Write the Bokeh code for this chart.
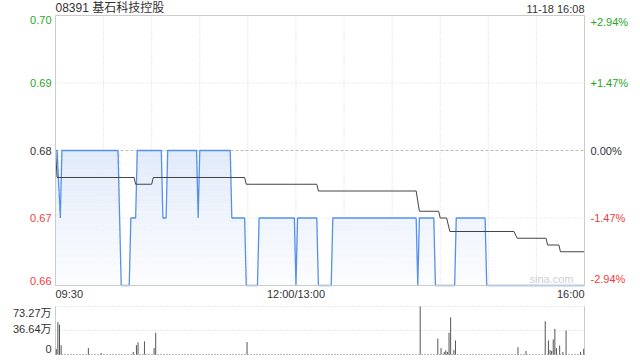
import numpy as np
from bokeh.plotting import figure
from bokeh.layouts import column
from bokeh.models import Range1d
from bokeh.core.properties import value
from bokeh.embed import file_html
from bokeh.resources import INLINE

# ---------------- data ----------------
title_text = "08391 基石科技控股"
stamp_text = "11-18 16:08"
prev_close = 0.68

# minute index from 09:30 (0) to 16:00 (330), lunch break removed
price_t = [0, 1, 3, 4, 39, 41, 46, 47, 50, 51, 66, 67, 69, 70, 88, 89, 90,
           109, 110, 118, 119, 126, 127, 149, 150, 151, 163, 164, 172, 173,
           225, 226, 227, 236, 237, 249, 250, 268, 269, 330]
price_v = [0.68, 0.68, 0.67, 0.68, 0.68, 0.66, 0.66, 0.67, 0.67, 0.68, 0.68, 0.67, 0.67, 0.68, 0.68, 0.67, 0.68,
           0.68, 0.67, 0.67, 0.66, 0.66, 0.67, 0.67, 0.66, 0.67, 0.67, 0.66, 0.66, 0.67,
           0.67, 0.66, 0.67, 0.67, 0.66, 0.66, 0.67, 0.67, 0.66, 0.66]

avg_t = [0, 1, 49, 50, 60, 61, 118, 119, 163, 164, 225, 227, 239, 240, 244, 246,
         286, 288, 306, 307, 314, 315, 330]
avg_v = [0.68, 0.676, 0.676, 0.675, 0.675, 0.676, 0.676, 0.675, 0.675, 0.674, 0.674, 0.671, 0.671, 0.670,
         0.670, 0.668, 0.668, 0.667, 0.667, 0.666, 0.666, 0.665, 0.665]

vol_t = [0, 1, 2, 3, 20, 28, 48, 50, 51, 55, 61, 62, 119, 227, 238, 240, 242, 243, 244, 245, 246, 248, 249,
         288, 293, 305, 307, 308, 309, 310, 311, 312, 314, 316, 318, 327, 329]
vol_wan = [8.3, 49.3, 45.4, 14.2, 9.8, 2.4, 3.9, 14.2, 18.6, 20.0, 9.8, 33.2, 19.1, 73.27, 24.4, 9.8, 3.9, 6.4,
           3.9, 33.2, 56.7, 6.8, 21.5, 11.2, 5.4, 50.8, 21.5, 6.8, 5.4, 23.0, 39.1, 9.8, 13.7, 3.9, 36.6, 3.9, 8.8]

price_ticks = [0.70, 0.69, 0.68, 0.67, 0.66]
price_labels = ["0.70", "0.69", "0.68", "0.67", "0.66"]
pct_labels = ["+2.94%", "+1.47%", "0.00%", "-1.47%", "-2.94%"]
time_ticks = [0, 150, 330]
time_labels = ["09:30", "12:00/13:00", "16:00"]
vol_ticks = [73.27, 36.64, 0]
vol_labels = ["73.27万", "36.64万", "0"]

# ---------------- layout geometry (pixels) ----------------
T0, T1 = 0, 330            # session minutes
P_LO, P_HI = 0.66, 0.70
LEFT, RIGHT = 55, 584      # plot-area pixel edges
W = 640
H1, TOP1, BOT1 = 300, 15, 285
H2, TOP2, BOT2 = 60, 6, 54
V_HI = vol_ticks[0]

sx = (RIGHT - LEFT) / (T1 - T0)
xr = Range1d(T0 - LEFT / sx, T1 + (W - RIGHT) / sx)
sy = (BOT1 - TOP1) / (P_HI - P_LO)
yr = Range1d(P_LO - (H1 - BOT1) / sy, P_HI + TOP1 / sy)
sv = (BOT2 - TOP2) / V_HI
vr = Range1d(0 - (H2 - BOT2) / sv, V_HI + TOP2 / sv)

FONT = value("Liberation Sans, Noto Sans CJK SC")
GREEN = "#1fa81f"
RED = "#f03c3c"
DARK = "#333333"
GRID = "#d4d4d4"
BORDER = "#cccccc"

def make_fig(h, y_range):
    f = figure(width=W, height=h, output_backend="svg", toolbar_location=None,
               x_range=xr, y_range=y_range, x_axis_location=None, y_axis_location=None,
               min_border=0)
    f.min_border_left = f.min_border_right = f.min_border_top = f.min_border_bottom = 0
    f.outline_line_color = None
    f.grid.visible = False
    f.background_fill_color = "white"
    f.border_fill_color = "white"
    return f

# ---------------- price panel ----------------
p = make_fig(H1, yr)

vx = list(range(30, 330, 30))
p.segment(x0=vx, y0=[P_LO] * len(vx), x1=vx, y1=[P_HI] * len(vx),
          line_color=GRID, line_dash="1 2", line_width=1)
hy = [0.69, 0.67]
p.segment(x0=[T0] * 2, y0=hy, x1=[T1] * 2, y1=hy, line_color=GRID, line_dash="1 2", line_width=1)
p.segment(x0=[T0], y0=[prev_close], x1=[T1], y1=[prev_close],
          line_color="#bbbbbb", line_dash="3 2", line_width=1)

# gradient fill under price line
pt = np.array(price_t, dtype=float)
pv = np.array(price_v, dtype=float)
nb = 20
lo_all, hi_all = 0.66, 0.68
c_top = np.array([226, 235, 251])
c_bot = np.array([252, 253, 255])
for k in range(nb):
    lo = lo_all + (hi_all - lo_all) * k / nb
    hi = lo_all + (hi_all - lo_all) * (k + 1) / nb
    f_ = (k + 0.5) / nb
    c = (c_bot + (c_top - c_bot) * f_).astype(int)
    col = "#%02x%02x%02x" % tuple(c)
    p.varea(x=pt, y1=np.clip(pv, lo, hi), y2=np.full_like(pv, lo), fill_color=col)

p.line(price_t, price_v, line_color="#5590ea", line_width=1.3)
p.line(avg_t, avg_v, line_color="#444444", line_width=1)

# plot-area border
p.quad(left=[T0], right=[T1], bottom=[P_LO], top=[P_HI], fill_color=None,
       line_color=BORDER, line_width=1)

def txt(fig, x, y, t, align, baseline, color=DARK, size="11px", xo=0, yo=0):
    fig.text(x=[x], y=[y], text=[t], text_align=align, text_baseline=baseline,
             text_color=color, text_font=FONT, text_font_size=size, x_offset=xo, y_offset=yo)

for yv, ltxt, rtxt in zip(price_ticks, price_labels, pct_labels):
    colr = GREEN if yv > prev_close + 1e-9 else (RED if yv < prev_close - 1e-9 else DARK)
    if yv >= P_HI - 1e-9:
        bl, off = "top", 0
    elif yv <= P_LO + 1e-9:
        bl, off = "bottom", -1
    else:
        bl, off = "middle", 0
    txt(p, T0, yv, ltxt, "right", bl, colr, xo=-4, yo=off)
    txt(p, T1, yv, rtxt, "left", bl, colr, xo=6, yo=off)

for xv, t in zip(time_ticks, time_labels):
    al = "left" if xv == time_ticks[0] else ("right" if xv == time_ticks[-1] else "center")
    txt(p, xv, P_LO, t, al, "top", yo=2)

txt(p, T0, P_HI, title_text, "left", "bottom", size="12px", yo=-1)
txt(p, T1, P_HI, stamp_text, "right", "bottom", size="11px", yo=-1)
txt(p, T1, P_LO, "sina.com", "right", "bottom", color="#cfcfcf", xo=-11, yo=-1)

# ---------------- volume panel ----------------
v = make_fig(H2, vr)
v.segment(x0=[T0] * 2, y0=[73.27, 36.64], x1=[T1] * 2, y1=[73.27, 36.64],
          line_color=GRID, line_dash="1 2", line_width=1)
v.segment(x0=[T0, T1], y0=[0, 0], x1=[T0, T1], y1=[V_HI, V_HI], line_color=BORDER, line_width=1)
v.segment(x0=[T0], y0=[0], x1=[T1], y1=[0], line_color="#777777", line_width=1, line_dash="1 2")

vt = np.array(vol_t, dtype=float) + 0.5
v.segment(x0=vt, y0=np.zeros_like(vt), x1=vt, y1=vol_wan, line_color="#555555", line_width=1)

for yv, t in zip(vol_ticks, vol_labels):
    if yv == vol_ticks[0]:
        bl, off = "top", 0
    elif yv == 0:
        bl, off = "bottom", -2
    else:
        bl, off = "middle", -1
    txt(v, T0, yv, t, "right", bl, xo=-4, yo=off)

layout = column(p, v, spacing=0)
open("out.html", "w").write(file_html(layout, INLINE))
